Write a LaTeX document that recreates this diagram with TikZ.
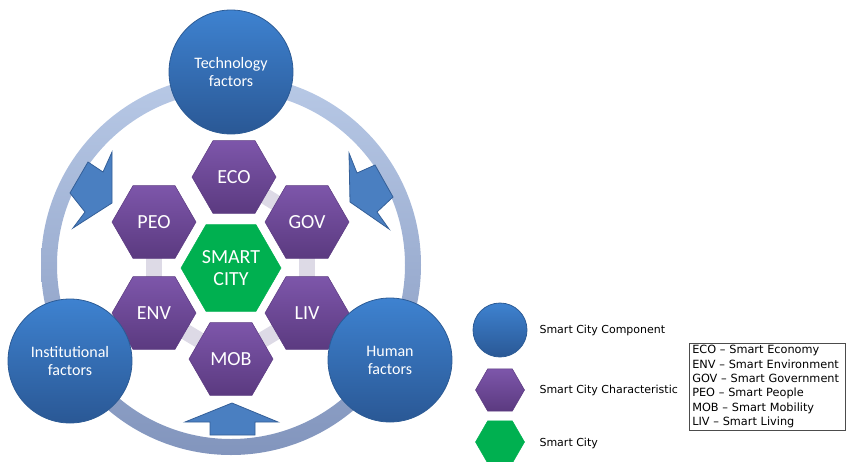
\documentclass[tikz,border=0pt]{standalone}
\usepackage{fontspec}
\setmainfont{Carlito}
\newfontfamily\legendfont{DejaVu Sans}
\usetikzlibrary{shapes.geometric,backgrounds}

\definecolor{factorTop}{HTML}{3E82D0}
\definecolor{factorBot}{HTML}{2A5895}
\definecolor{factorEdge}{HTML}{2C5B95}
\definecolor{hexTop}{HTML}{7D56AA}
\definecolor{hexBot}{HTML}{5B3A80}
\definecolor{cityGreen}{HTML}{00B050}
\definecolor{ringTop}{HTML}{B8C9E6}
\definecolor{ringBot}{HTML}{8295BD}
\definecolor{bandGrey}{HTML}{DDDAE6}
\definecolor{arrowFill}{HTML}{4A7FC1}
\definecolor{arrowEdge}{HTML}{345F98}

\begin{document}
\begin{tikzpicture}[x=1pt,y=-1pt,
	factor/.style={circle,minimum size=124pt,inner sep=0pt,top color=factorTop,bottom color=factorBot,
		draw=factorEdge,line width=0.8pt,text=white,align=center,font=\fontsize{16}{18}\selectfont},
	hexa/.style={regular polygon,regular polygon sides=6,minimum size=84pt,inner sep=0pt,
		top color=hexTop,bottom color=hexBot,draw=hexBot,line width=0.5pt,text=white,
		font=\fontsize{20}{22}\selectfont},
	city/.style={hexa,minimum size=100pt,top color=cityGreen,bottom color=cityGreen,draw=cityGreen,align=center},
	band/.style={line width=16pt,color=bandGrey},
	blockarrow/.style={fill=arrowFill,draw=arrowEdge,line width=0.8pt,line join=miter},
	legend/.style={anchor=west,font=\legendfont\fontsize{11}{13}\selectfont}]

	\clip (0,0) rectangle (846,461);

	\begin{scope}[on background layer]
		\shade[top color=ringTop,bottom color=ringBot,even odd rule]
			(231,265) circle[radius=190pt] (231,265) circle[radius=174pt];
	\end{scope}

	\node[hexa] (eco) at (234,177) {ECO};
	\node[hexa] (peo) at (154,222) {PEO};
	\node[hexa] (gov) at (307,222) {GOV};
	\node[hexa] (env) at (154,313) {ENV};
	\node[hexa] (liv) at (307,313) {LIV};
	\node[hexa] (mob) at (231,359) {MOB};

	\begin{scope}[on background layer]
		\foreach \a/\b in {eco/gov, gov/liv, liv/mob, mob/env, env/peo}
			\draw[band] (\a.center) -- (\b.center);
	\end{scope}

	\node[city] (smart) at (231,268) {SMART\\CITY};

	\draw[blockarrow] (112,152) -- (103,172) -- (88,162) -- (70,193) -- (85,212) -- (73,228) -- (112,203) -- cycle;
	\draw[blockarrow] (349,153) -- (357,173) -- (375,165) -- (393,197) -- (377,212) -- (389,229) -- (350,202) -- cycle;
	\draw[blockarrow] (232,403) -- (278,422) -- (255,422) -- (255,435) -- (210,435) -- (210,422) -- (185,422) -- cycle;

	\node[factor] (tech) at (231,72) {Technology\\factors};
	\node[factor] (inst) at (70,361) {Institutional\\factors};
	\node[factor] (human) at (390,360) {Human\\factors};

	\node[factor,minimum size=54pt] (keycomp) at (500,330) {};
	\node[hexa,minimum size=49pt] (keychar) at (500,390) {};
	\node[city,minimum size=49pt] (keycity) at (500,442) {};
	\node[legend] (lcomp) at (536,330) {Smart City Component};
	\node[legend] (lchar) at (536,390) {Smart City Characteristic};
	\node[legend] (lcity) at (536,443) {Smart City};

	\node[draw=black!70,line width=0.5pt,anchor=north west,text width=150pt,inner xsep=3pt,inner ysep=2pt,
		align=left,font=\legendfont\fontsize{11.3}{14.4}\selectfont] (key) at (689,343)
		{ECO – Smart Economy\\ENV – Smart Environment\\GOV – Smart Government\\
		PEO – Smart People\\MOB – Smart Mobility\\LIV – Smart Living};
\end{tikzpicture}
\end{document}
